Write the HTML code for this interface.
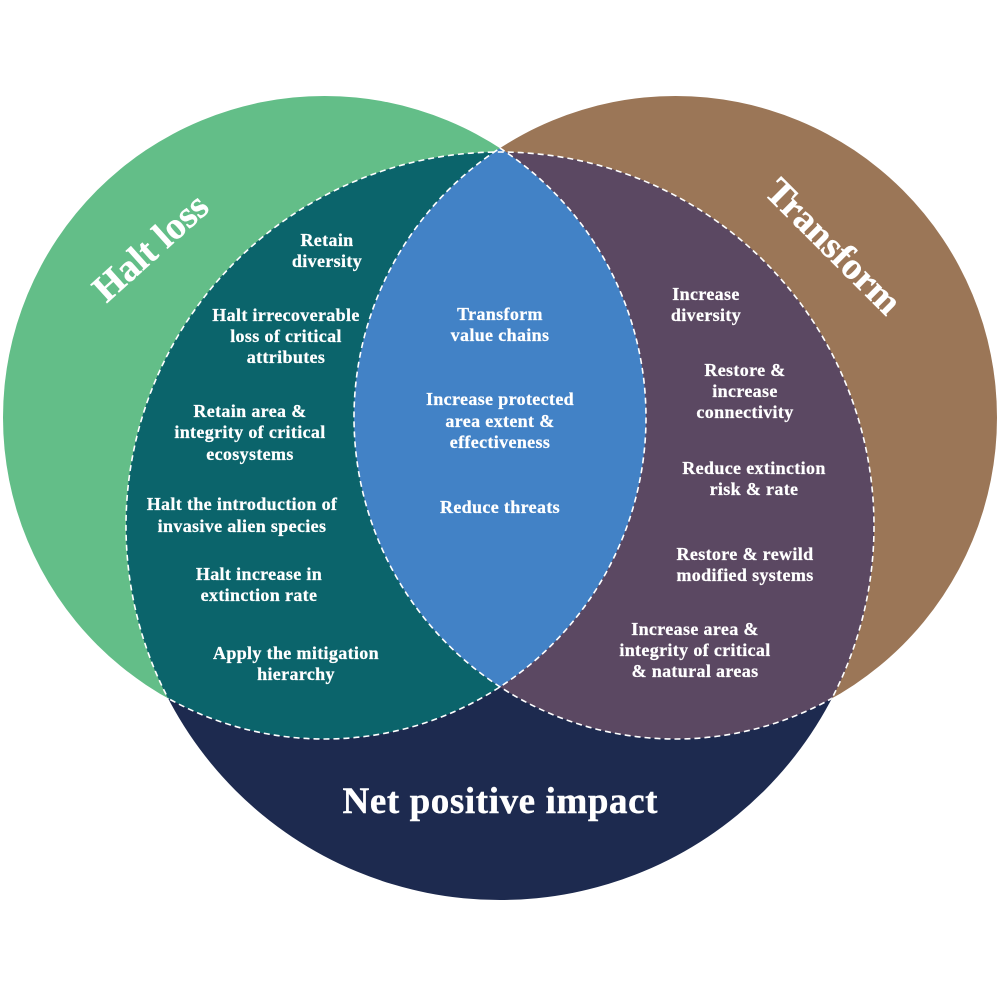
<!DOCTYPE html>
<html>
<head>
<meta charset="utf-8">
<style>
  html, body { margin: 0; padding: 0; background: #ffffff; }
  svg { display: block; }
  .t { font-family: "Liberation Serif", "Times New Roman", serif; font-weight: bold; fill: #ffffff; stroke: #ffffff; stroke-width: 0.25px; text-anchor: middle; font-size: 18px; letter-spacing: 0.35px; }
  .title { font-family: "Liberation Serif", "Times New Roman", serif; font-weight: bold; fill: #ffffff; stroke: #ffffff; stroke-width: 0.4px; text-anchor: middle; }
</style>
</head>
<body>
<svg width="1000" height="1000" viewBox="0 0 1000 1000" xmlns="http://www.w3.org/2000/svg">
  <defs>
    <clipPath id="cg"><circle cx="324.5" cy="417.5" r="321.5"/></clipPath>
    <clipPath id="cb"><circle cx="675.5" cy="417.5" r="321.5"/></clipPath>
    <clipPath id="cbn">
      <circle cx="675.5" cy="417.5" r="321.5"/>
      <circle cx="500" cy="526" r="374"/>
    </clipPath>
    <clipPath id="cgn">
      <circle cx="324.5" cy="417.5" r="321.5"/>
      <circle cx="500" cy="526" r="374"/>
    </clipPath>
    <clipPath id="cgb">
      <circle cx="324.5" cy="417.5" r="321.5"/>
      <circle cx="675.5" cy="417.5" r="321.5"/>
    </clipPath>
  </defs>

  <!-- base circles -->
  <circle cx="324.5" cy="417.5" r="321.5" fill="#63be88"/>
  <circle cx="675.5" cy="417.5" r="321.5" fill="#9b7657"/>
  <circle cx="500" cy="526" r="374" fill="#1d2a4f"/>

  <!-- intersections -->
  <circle cx="500" cy="526" r="374" fill="#0b646b" clip-path="url(#cg)"/>
  <circle cx="500" cy="526" r="374" fill="#5b4862" clip-path="url(#cb)"/>
  <circle cx="324.5" cy="417.5" r="321.5" fill="#4282c6" clip-path="url(#cb)"/>

  <!-- dashed interior outlines -->
  <g fill="none" stroke="#ffffff" stroke-width="1.6" stroke-dasharray="6 4">
    <circle cx="324.5" cy="417.5" r="321.5" clip-path="url(#cbn)"/>
    <circle cx="675.5" cy="417.5" r="321.5" clip-path="url(#cgn)"/>
    <circle cx="500" cy="526" r="374" clip-path="url(#cgb)"/>
  </g>

  <!-- titles -->
  <text class="title" font-size="38" transform="translate(150,247) rotate(-42)" y="13">Halt loss</text>
  <text class="title" font-size="38" transform="translate(834,246) rotate(45)" y="13">Transform</text>
  <text class="title" font-size="37" x="500" y="813" textLength="315" lengthAdjust="spacing">Net positive impact</text>

  <!-- left (teal) -->
  <text class="t" x="327" y="246">Retain</text>
  <text class="t" x="327" y="267">diversity</text>
  <text class="t" x="286" y="321">Halt irrecoverable</text>
  <text class="t" x="286" y="342">loss of critical</text>
  <text class="t" x="286" y="363">attributes</text>
  <text class="t" x="250" y="417">Retain area &amp;</text>
  <text class="t" x="250" y="438">integrity of critical</text>
  <text class="t" x="250" y="460">ecosystems</text>
  <text class="t" x="242" y="510">Halt the introduction of</text>
  <text class="t" x="242" y="532">invasive alien species</text>
  <text class="t" x="259" y="580">Halt increase in</text>
  <text class="t" x="259" y="601">extinction rate</text>
  <text class="t" x="296" y="659">Apply the mitigation</text>
  <text class="t" x="296" y="680">hierarchy</text>

  <!-- center (blue) -->
  <text class="t" x="500" y="320">Transform</text>
  <text class="t" x="500" y="341">value chains</text>
  <text class="t" x="500" y="405">Increase protected</text>
  <text class="t" x="500" y="427">area extent &amp;</text>
  <text class="t" x="500" y="448">effectiveness</text>
  <text class="t" x="500" y="513">Reduce threats</text>

  <!-- right (purple) -->
  <text class="t" x="706" y="300">Increase</text>
  <text class="t" x="706" y="321">diversity</text>
  <text class="t" x="745" y="376">Restore &amp;</text>
  <text class="t" x="745" y="397">increase</text>
  <text class="t" x="745" y="418">connectivity</text>
  <text class="t" x="754" y="474">Reduce extinction</text>
  <text class="t" x="754" y="495">risk &amp; rate</text>
  <text class="t" x="745" y="560">Restore &amp; rewild</text>
  <text class="t" x="745" y="581">modified systems</text>
  <text class="t" x="695" y="635">Increase area &amp;</text>
  <text class="t" x="695" y="656">integrity of critical</text>
  <text class="t" x="695" y="677">&amp; natural areas</text>
</svg>
</body>
</html>
